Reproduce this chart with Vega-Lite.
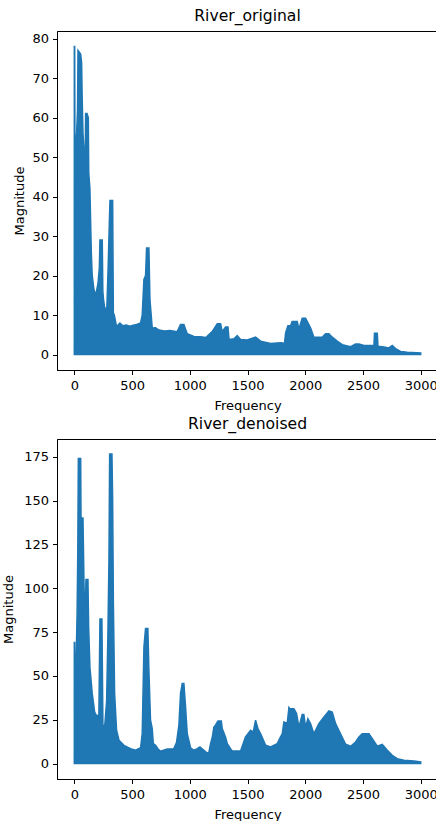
{
  "$schema": "https://vega.github.io/schema/vega-lite/v6.json",
  "padding": {"left": 2, "top": 8, "right": 0, "bottom": 0},
  "spacing": 3,
  "config": {
    "font": "DejaVu Sans",
    "view": {"stroke": "black", "strokeWidth": 1},
    "axis": {
      "labelFontSize": 13, "titleFontSize": 13, "labelColor": "black", "titleColor": "black",
      "domainColor": "black", "tickColor": "black", "tickSize": 4.5, "labelPadding": 4,
      "grid": false, "titleFontWeight": "normal", "labelFlush": false, "labelOverlap": false, "titlePadding": 4
    },
    "axisX": {"labelPadding": 5, "titlePadding": 7},
    "title": {"fontSize": 15.6, "fontWeight": "normal", "color": "black", "offset": 6, "anchor": "middle"}
  },
  "datasets": {
    "orig": [
      {"f":0,"m":78},{"f":3,"m":78},{"f":6,"m":45},{"f":8,"m":52},{"f":20,"m":56},{"f":28,"m":62},{"f":32,"m":77},{"f":45,"m":76.5},{"f":55,"m":76},{"f":63,"m":74},{"f":68,"m":65},{"f":75,"m":56},{"f":85,"m":51},{"f":95,"m":52},{"f":98,"m":61},{"f":110,"m":61},{"f":121,"m":60},{"f":125,"m":46},{"f":135,"m":42},{"f":141,"m":34},{"f":147,"m":26},{"f":155,"m":20},{"f":170,"m":16.4},{"f":185,"m":15},{"f":205,"m":18},{"f":217,"m":22},{"f":222,"m":29},{"f":242,"m":29},{"f":247,"m":16},{"f":253,"m":14},{"f":265,"m":11.3},{"f":282,"m":12},{"f":293,"m":22},{"f":303,"m":33},{"f":309,"m":39},{"f":332,"m":39},{"f":338,"m":10.6},{"f":346,"m":10},{"f":366,"m":7.1},{"f":395,"m":8},{"f":420,"m":7.3},{"f":450,"m":7.5},{"f":480,"m":7.2},{"f":510,"m":7.4},{"f":540,"m":7.6},{"f":574,"m":8},{"f":588,"m":10},{"f":603,"m":19},{"f":617,"m":20},{"f":626,"m":27},{"f":646,"m":27},{"f":655,"m":13.9},{"f":675,"m":6.7},{"f":704,"m":6.8},{"f":733,"m":6.2},{"f":780,"m":6},{"f":830,"m":6.1},{"f":891,"m":5.8},{"f":920,"m":7.6},{"f":949,"m":7.6},{"f":978,"m":5.3},{"f":1036,"m":4.6},{"f":1093,"m":4.5},{"f":1140,"m":4.3},{"f":1166,"m":5.1},{"f":1194,"m":5.8},{"f":1238,"m":7.8},{"f":1267,"m":7.8},{"f":1281,"m":5.8},{"f":1310,"m":7},{"f":1331,"m":7},{"f":1340,"m":3.8},{"f":1383,"m":4},{"f":1411,"m":4.8},{"f":1440,"m":3.8},{"f":1498,"m":3.7},{"f":1570,"m":4.4},{"f":1614,"m":3.4},{"f":1700,"m":2.8},{"f":1787,"m":3},{"f":1821,"m":2.9},{"f":1830,"m":5.5},{"f":1850,"m":7.3},{"f":1873,"m":7.3},{"f":1887,"m":8.4},{"f":1931,"m":8.4},{"f":1945,"m":6.5},{"f":1974,"m":9.2},{"f":2003,"m":9.2},{"f":2017,"m":8.4},{"f":2046,"m":6.8},{"f":2075,"m":4.4},{"f":2147,"m":4.4},{"f":2176,"m":5.3},{"f":2205,"m":5.3},{"f":2234,"m":4.4},{"f":2277,"m":3.4},{"f":2321,"m":2.5},{"f":2393,"m":2},{"f":2436,"m":2.7},{"f":2465,"m":2.7},{"f":2509,"m":2.3},{"f":2595,"m":2.3},{"f":2600,"m":5.4},{"f":2624,"m":5.4},{"f":2630,"m":2.1},{"f":2682,"m":1.9},{"f":2725,"m":1.7},{"f":2754,"m":2.3},{"f":2783,"m":1.5},{"f":2826,"m":0.8},{"f":2884,"m":0.6},{"f":3000,"m":0.4}
    ],
    "den": [
      {"f":0,"m":69},{"f":3,"m":69},{"f":7,"m":32},{"f":16,"m":60},{"f":24,"m":85},{"f":30,"m":120},{"f":35,"m":174},{"f":55,"m":174},{"f":58,"m":140},{"f":75,"m":140},{"f":78,"m":127},{"f":90,"m":76},{"f":101,"m":105},{"f":118,"m":105},{"f":124,"m":78},{"f":135,"m":55},{"f":155,"m":40},{"f":176,"m":29.4},{"f":199,"m":26.5},{"f":213,"m":28.4},{"f":222,"m":82.5},{"f":239,"m":82.5},{"f":248,"m":19},{"f":265,"m":22.8},{"f":280,"m":36},{"f":291,"m":74},{"f":300,"m":116},{"f":306,"m":176.5},{"f":326,"m":176.5},{"f":332,"m":150},{"f":338,"m":93},{"f":349,"m":40},{"f":366,"m":19},{"f":387,"m":13.3},{"f":430,"m":10.4},{"f":488,"m":8.5},{"f":531,"m":7.6},{"f":574,"m":9},{"f":588,"m":17},{"f":603,"m":66.4},{"f":617,"m":77},{"f":637,"m":77},{"f":646,"m":53},{"f":660,"m":24.7},{"f":675,"m":20},{"f":684,"m":11.4},{"f":704,"m":10.4},{"f":724,"m":8.5},{"f":747,"m":7},{"f":805,"m":8.3},{"f":862,"m":8.5},{"f":885,"m":12},{"f":906,"m":22},{"f":920,"m":40},{"f":935,"m":45.6},{"f":949,"m":45.6},{"f":964,"m":32},{"f":978,"m":17},{"f":1007,"m":9},{"f":1036,"m":7.6},{"f":1065,"m":8.5},{"f":1088,"m":9.5},{"f":1123,"m":7.6},{"f":1150,"m":6},{"f":1166,"m":6.5},{"f":1180,"m":11.4},{"f":1195,"m":15},{"f":1209,"m":20.8},{"f":1224,"m":22},{"f":1244,"m":24.3},{"f":1273,"m":24.3},{"f":1281,"m":20},{"f":1310,"m":15},{"f":1325,"m":11.4},{"f":1353,"m":8.5},{"f":1368,"m":7.2},{"f":1440,"m":7.2},{"f":1483,"m":15.2},{"f":1527,"m":19},{"f":1550,"m":18},{"f":1570,"m":24.7},{"f":1590,"m":20},{"f":1614,"m":17},{"f":1657,"m":10.4},{"f":1700,"m":9.5},{"f":1758,"m":11.4},{"f":1786,"m":15.2},{"f":1801,"m":17},{"f":1815,"m":23.7},{"f":1844,"m":23},{"f":1859,"m":32},{"f":1867,"m":31.3},{"f":1902,"m":31.3},{"f":1925,"m":28.5},{"f":1945,"m":20.8},{"f":1974,"m":28},{"f":1988,"m":28},{"f":2003,"m":20.8},{"f":2023,"m":25.6},{"f":2046,"m":22.8},{"f":2075,"m":17},{"f":2118,"m":22.8},{"f":2162,"m":26.6},{"f":2205,"m":30},{"f":2234,"m":29.3},{"f":2263,"m":22.8},{"f":2306,"m":17},{"f":2350,"m":11},{"f":2393,"m":9.9},{"f":2436,"m":12.3},{"f":2465,"m":15.2},{"f":2494,"m":17},{"f":2552,"m":17},{"f":2581,"m":14.2},{"f":2624,"m":9.9},{"f":2667,"m":11},{"f":2711,"m":7.6},{"f":2754,"m":4.7},{"f":2797,"m":2.8},{"f":2855,"m":1.9},{"f":2942,"m":1.5},{"f":3000,"m":0.9}
    ]
  },
  "vconcat": [
    {
      "title": "River_original",
      "width": 381, "height": 339,
      "data": {"name": "orig"},
      "mark": {"type": "area", "color": "#1f77b4", "stroke": "#1f77b4", "strokeWidth": 1.5, "clip": true},
      "encoding": {
        "x": {"field": "f", "type": "quantitative", "scale": {"domain": [-150, 3150], "nice": false, "zero": false},
              "axis": {"values": [0, 500, 1000, 1500, 2000, 2500, 3000], "format": "d", "title": "Frequency"}},
        "y": {"field": "m", "type": "quantitative", "scale": {"domain": [-3.9, 81.9], "nice": false, "zero": false},
              "axis": {"values": [0, 10, 20, 30, 40, 50, 60, 70, 80], "title": "Magnitude", "titlePadding": 5}},
        "y2": {"datum": 0}
      }
    },
    {
      "title": "River_denoised",
      "width": 381, "height": 340,
      "data": {"name": "den"},
      "mark": {"type": "area", "color": "#1f77b4", "stroke": "#1f77b4", "strokeWidth": 1.5, "clip": true},
      "encoding": {
        "x": {"field": "f", "type": "quantitative", "scale": {"domain": [-150, 3150], "nice": false, "zero": false},
              "axis": {"values": [0, 500, 1000, 1500, 2000, 2500, 3000], "format": "d", "title": "Frequency"}},
        "y": {"field": "m", "type": "quantitative", "scale": {"domain": [-8.8, 185.1], "nice": false, "zero": false},
              "axis": {"values": [0, 25, 50, 75, 100, 125, 150, 175], "title": "Magnitude", "titlePadding": 8}},
        "y2": {"datum": 0}
      }
    }
  ]
}
